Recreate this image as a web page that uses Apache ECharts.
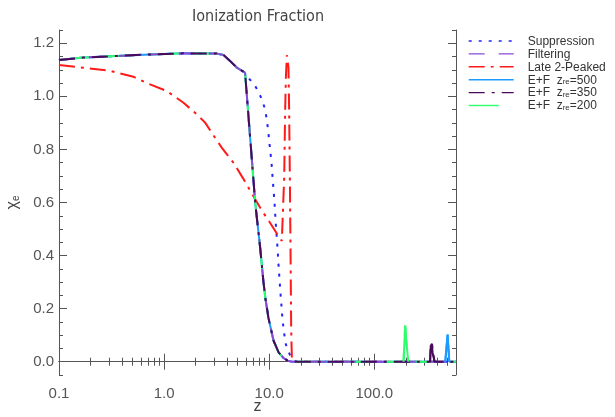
<!DOCTYPE html>
<html><head><meta charset="utf-8">
<script src="https://cdn.jsdelivr.net/npm/echarts@6/dist/echarts.min.js"></script>
<style>html,body{margin:0;padding:0;background:#fff}#c{width:615px;height:417px}</style>
</head><body><div id="c"></div>
<script>
// ---- tick labels ----
const xMajorTicks = [0.1, 1, 10, 100];
const xMinorTicks = [0.2,0.3,0.4,0.5,0.6,0.7,0.8,0.9,2,3,4,5,6,7,8,9,20,30,40,50,60,70,80,90,200,300,400,500];
const yMajorTicks = [0, 0.2, 0.4, 0.6, 0.8, 1.0, 1.2];
const yMinorTicks = [-0.05,0.05,0.1,0.15,0.25,0.3,0.35,0.45,0.5,0.55,0.65,0.7,0.75,0.85,0.9,0.95,1.05,1.1,1.15,1.25];

// ---- series names ----
const seriesNames = ['Suppression','Filtering','Late 2-Peaked','E+F z_re=500','E+F z_re=350','E+F z_re=200'];

// ---- shared early curve (Filtering and E+F models) ----
const mainZ   = [0.1,0.17,0.35,0.74,1.5,3.2,3.67,4.25,4.93,5.9,6.05,7.08,7.36,8.21,8.83,9.2,9.85,11.0,12.3,13.7,15.0,16.5];
const mainChi = [1.137,1.146,1.152,1.158,1.162,1.161,1.156,1.133,1.108,1.089,1.083,0.687,0.600,0.430,0.300,0.240,0.165,0.080,0.035,0.014,0.004,0.0];

// ---- Suppression ----
const suppZ   = [0.1,0.17,0.35,0.74,1.5,3.2,3.67,4.25,4.93,5.9,6.05,6.35,7.0,7.52,8.39,9.0,9.5,9.85,10.2,10.5,10.8,11.2,11.6,12.0,12.3,12.75,13.3,13.7,14.3,15.0,15.85,17.0,18.5,600];
const suppChi = [1.137,1.146,1.152,1.158,1.162,1.161,1.156,1.133,1.108,1.089,1.083,1.07,1.05,1.033,0.995,0.96,0.915,0.86,0.80,0.755,0.69,0.61,0.51,0.43,0.36,0.27,0.175,0.125,0.07,0.045,0.024,0.006,0,0];

// ---- Late 2-Peaked ----
const lateZ   = [0.1,0.17,0.306,0.51,0.736,1.06,1.53,2.05,2.46,2.95,3.55,4.57,5.65,6.84,8.51,10.23,12.0,13.2,13.6,13.9,14.2,14.43,14.75,15.0,15.28,15.5,15.74,15.96,16.2,16.45,17.0,600];
const lateChi = [1.118,1.108,1.096,1.074,1.045,1.02,0.976,0.932,0.901,0.853,0.806,0.75,0.691,0.634,0.570,0.523,0.479,0.455,0.45,0.693,0.945,1.071,1.155,1.15,1.108,0.945,0.693,0.442,0.127,0.014,0,0];

// ---- late-time spikes of the E+F models ----
const spike500Z = [474,499,518];
const spike500Chi = [0,0.102,0];
const spike350Z = [340,345,350,355,359,366,375];
const spike350Chi = [0,0.06,0.066,0.068,0.033,0.022,0];
const spike200Z = [190,197,201,204,211];
const spike200Chi = [0,0.136,0.085,0.085,0];
const endZ = [600];
const endChi = [0];

function zip(zs, cs) { return zs.map((z, i) => [z, cs[i]]); }
const mainPts = zip(mainZ, mainChi);
const dataSupp = zip(suppZ, suppChi);
const dataLate = zip(lateZ, lateChi);
const dataFilt = mainPts.concat(zip(endZ, endChi));
const data500 = mainPts.concat(zip(spike500Z, spike500Chi), zip(endZ, endChi));
const data350 = mainPts.concat(zip(spike350Z, spike350Chi), zip(endZ, endChi));
const data200 = mainPts.concat(zip(spike200Z, spike200Chi), zip(endZ, endChi));

const AX = '#555';
const FONT = "'Liberation Sans', Arial, sans-serif";

function xAxisCfg(pos, ticks, len, labels) {
  return {
    type: 'log', logBase: 10, min: 0.1, max: 600, position: pos,
    axisLine: { show: len > 5, lineStyle: { color: AX, width: 1 } },
    axisTick: { show: true, inside: true, length: len, customValues: ticks, lineStyle: { color: AX, width: 1 } },
    axisLabel: labels ? { show: true, customValues: ticks, margin: 11, color: '#555', fontSize: 15, fontFamily: FONT,
                          formatter: v => Number(v).toFixed(1) } : { show: false },
    splitLine: { show: false }, minorTick: { show: false }
  };
}
function yAxisCfg(pos, ticks, len, labels) {
  return {
    type: 'value', min: -0.05, max: 1.25, position: pos,
    axisLine: { show: len > 5, lineStyle: { color: AX, width: 1 } },
    axisTick: { show: true, inside: true, length: len, customValues: ticks, lineStyle: { color: AX, width: 1 } },
    axisLabel: labels ? { show: true, customValues: ticks, margin: 5, color: '#555', fontSize: 15, fontFamily: FONT,
                          formatter: v => Number(v).toFixed(1) } : { show: false },
    splitLine: { show: false }
  };
}

const xAxes = [
  xAxisCfg('bottom', xMajorTicks, 8, true),
  xAxisCfg('bottom', xMinorTicks, 4, false),
  xAxisCfg('top', xMajorTicks, 8, false),
  xAxisCfg('top', xMinorTicks, 4, false)
];
xAxes[0].name = 'z';
xAxes[0].nameLocation = 'middle';
xAxes[0].nameGap = 24;
xAxes[0].nameMoveOverlap = false;
xAxes[0].nameTextStyle = { color: '#444', fontSize: 16, fontFamily: FONT };

const yAxes = [
  yAxisCfg('left', yMajorTicks, 8, true),
  yAxisCfg('left', yMinorTicks, 4, false),
  yAxisCfg('right', yMajorTicks, 8, false),
  yAxisCfg('right', yMinorTicks, 4, false)
];
yAxes[0].name = '{a|χ}{s|e}';
yAxes[0].nameLocation = 'middle';
yAxes[0].nameRotate = 90;
yAxes[0].nameGap = 38;
yAxes[0].nameMoveOverlap = false;
yAxes[0].nameTextStyle = { color: '#444', fontFamily: FONT,
  rich: { a: { fontSize: 16, lineHeight: 18, color: '#444', fontFamily: FONT, verticalAlign: 'bottom' },
          s: { fontSize: 10, lineHeight: 18, color: '#444', fontFamily: FONT, verticalAlign: 'bottom' } } };

function line(name, data, color, type, width) {
  return { name, type: 'line', data, symbol: 'none', showSymbol: false, smooth: false, animation: false,
           xAxisIndex: 0, yAxisIndex: 0, lineStyle: { color, type, width: width || 2 }, itemStyle: { color } };
}

const COLORS = { supp: '#2222ff', filt: '#8a4ad8', late: '#ff1a1a', e500: '#1e9bff', e350: '#4a0a5a', e200: '#2cff6a' };

const series = [
  line(seriesNames[0], dataSupp, COLORS.supp, [3, 7], 2),
  line(seriesNames[2], dataLate, COLORS.late, [16, 6, 3, 6], 2),
  line(seriesNames[3], data500, COLORS.e500, 'solid', 2),
  line(seriesNames[5], data200, COLORS.e200, [30, 15], 2),
  line(seriesNames[1], dataFilt, COLORS.filt, [16, 14], 2),
  line(seriesNames[4], data350, COLORS.e350, [16, 7, 3, 7], 2),
  // the narrow late-time spikes read as solid strokes
  line(seriesNames[5], zip(spike200Z, spike200Chi), COLORS.e200, 'solid', 2),
  line(seriesNames[4], zip(spike350Z, spike350Chi), COLORS.e350, 'solid', 2),
  line(seriesNames[3], zip(spike500Z, spike500Chi), COLORS.e500, 'solid', 2)
];

function legendLabel(name) {
  const m = name.match(/^(E\+F) z_re(=\d+)$/);
  if (m) return '{sp| }{t|' + m[1] + '  z}{s|re}{t|' + m[2] + '}';
  return '{sp| }{t|' + name + '}';
}

const chart = echarts.init(document.getElementById('c'), null, { renderer: 'canvas' });
chart.setOption({
  animation: false,
  backgroundColor: '#fff',
  grid: { left: 59, right: 159, top: 30, bottom: 42, containLabel: false, outerBoundsMode: 'none' },
  xAxis: xAxes,
  yAxis: yAxes,
  legend: {
    data: seriesNames, orient: 'vertical', left: 468, top: 35,
    itemWidth: 45, itemHeight: 13, itemGap: 0.4, padding: 0,
    lineStyle: { width: 1.4 },
    itemStyle: { opacity: 0, borderWidth: 0 },
    formatter: legendLabel,
    textStyle: { color: '#333', fontSize: 12, fontFamily: FONT,
      rich: { sp: { width: 9, fontSize: 12 },
              t: { fontSize: 12, lineHeight: 13, color: '#333', fontFamily: FONT, verticalAlign: 'bottom' },
              s: { fontSize: 8, lineHeight: 11, color: '#333', fontFamily: FONT, verticalAlign: 'bottom' } } }
  },
  graphic: [{
    type: 'text', x: 258, y: 17, silent: true,
    style: { text: 'Ionization Fraction', fill: '#444', font: "16px 'Liberation Sans Narrow', 'DejaVu Sans Condensed', 'Liberation Sans', sans-serif",
             textAlign: 'center', textVerticalAlign: 'middle' }
  }],
  series
});
</script></body></html>
